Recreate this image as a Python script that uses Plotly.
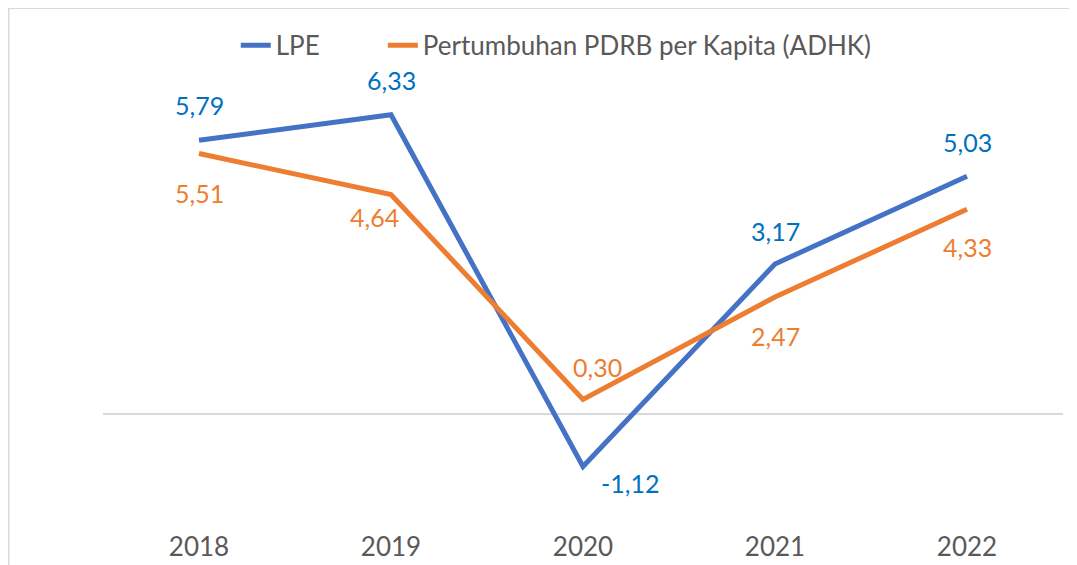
import plotly.graph_objects as go

years = ["2018", "2019", "2020", "2021", "2022"]
lpe = [5.79, 6.33, -1.12, 3.17, 5.03]
pdrb = [5.51, 4.64, 0.30, 2.47, 4.33]
lpe_labels = ["5,79", "6,33", "-1,12", "3,17", "5,03"]
pdrb_labels = ["5,51", "4,64", "0,30", "2,47", "4,33"]

# label offsets in pixels (dx, dy)
lpe_shift = [(0, 35), (0, 35), (47, -17), (0, 33), (0, 34)]
pdrb_shift = [(0, -39), (-17, -22), (14, 32), (0, -39), (0, -38)]

BLUE = "#4472C4"
ORANGE = "#ED7D31"
LABEL_BLUE = "#0070C0"
FONT = "Lato"
TEXT = "#595959"

fig = go.Figure()
fig.add_trace(go.Scatter(x=years, y=lpe, mode="lines", name="LPE",
                         line=dict(color=BLUE, width=5), legend="legend"))
fig.add_trace(go.Scatter(x=years, y=pdrb, mode="lines",
                         name="Pertumbuhan PDRB per Kapita (ADHK)",
                         line=dict(color=ORANGE, width=5), legend="legend2"))

for i, (y, t, (dx, dy)) in enumerate(zip(lpe, lpe_labels, lpe_shift)):
    fig.add_annotation(x=i, y=y, text=t, showarrow=False, xshift=dx, yshift=dy,
                       font=dict(family=FONT, size=25, color=LABEL_BLUE))
for i, (y, t, (dx, dy)) in enumerate(zip(pdrb, pdrb_labels, pdrb_shift)):
    fig.add_annotation(x=i, y=y, text=t, showarrow=False, xshift=dx, yshift=dy,
                       font=dict(family=FONT, size=25, color=ORANGE))

# chart border (cropped in the reference)
fig.add_shape(type="rect", xref="paper", yref="paper",
              x0=-0.0982, x1=1.2, y0=-0.3, y1=1.0588,
              line=dict(color="#D9D9D9", width=1.5), layer="below")

legend_common = dict(orientation="h", y=0.98, yanchor="middle",
                     font=dict(family=FONT, size=26, color=TEXT),
                     bgcolor="rgba(0,0,0,0)")

fig.update_layout(
    width=1069, height=557,
    margin=dict(l=95, r=14, t=28, b=57, autoexpand=False),
    paper_bgcolor="white", plot_bgcolor="white",
    font=dict(family=FONT, size=26, color=TEXT),
    showlegend=True,
    legend=dict(x=0.1383, xanchor="left", **legend_common),
    legend2=dict(x=0.2915, xanchor="left", **legend_common),
    xaxis=dict(type="category", range=[-0.5, 4.5], showgrid=False, showline=False,
               ticks="", zeroline=False, ticklabelstandoff=21, automargin=False,
               tickfont=dict(family=FONT, size=26, color=TEXT)),
    yaxis=dict(range=[-2, 8], showgrid=False, showticklabels=False, ticks="",
               zeroline=True, zerolinecolor="#D9D9D9", zerolinewidth=2,
               showline=False, automargin=False),
)

fig.write_html("out.html")
